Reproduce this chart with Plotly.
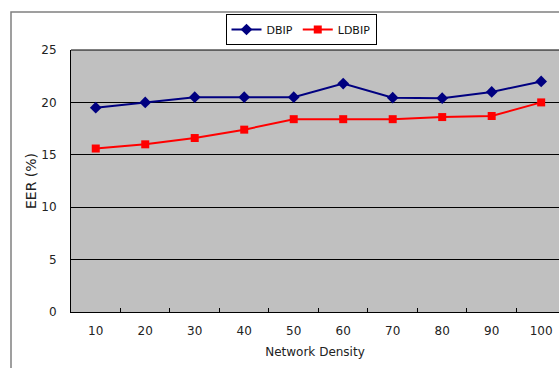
import plotly.graph_objects as go

categories = ["10", "20", "30", "40", "50", "60", "70", "80", "90", "100"]
dbip = [19.5, 20.0, 20.5, 20.5, 20.5, 21.8, 20.45, 20.4, 21.0, 22.0]
ldbip = [15.6, 16.0, 16.6, 17.4, 18.4, 18.4, 18.4, 18.6, 18.7, 20.0]
y_ticks = [0, 5, 10, 15, 20, 25]

W, H = 559, 368
L, R, T, B = 71, 0, 50, 56
pw, ph = W - L - R, H - T - B

def px(x):
    return (x - L) / pw

def py(y):
    return (H - B - y) / ph

FAM = "DejaVu Sans, Arial, sans-serif"
tickfont = dict(family=FAM, size=12, color="#222")

fig = go.Figure()
fig.add_trace(go.Scatter(x=categories, y=dbip, name="DBIP", mode="lines+markers",
                         line=dict(color="#000080", width=2),
                         marker=dict(symbol="diamond", size=9, color="#000080")))
fig.add_trace(go.Scatter(x=categories, y=ldbip, name="LDBIP", mode="lines+markers",
                         line=dict(color="#FF0000", width=2),
                         marker=dict(symbol="square", size=8, color="#FF0000")))

fig.update_layout(
    width=W, height=H,
    margin=dict(l=L, r=R, t=T, b=B, pad=0),
    paper_bgcolor="white", plot_bgcolor="#C0C0C0",
    font=tickfont,
    showlegend=True,
    legend=dict(orientation="h", x=px(301), xanchor="center", y=py(14), yanchor="top",
                bgcolor="white", bordercolor="black", borderwidth=1,
                font=dict(family=FAM, size=11, color="#111"),
                itemwidth=30, tracegroupgap=0),
    xaxis=dict(type="category", range=[-0.5, 9.36], showgrid=False,
               showline=True, linecolor="black", linewidth=1,
               ticks="inside", tickson="boundaries", ticklen=4, tickcolor="black",
               ticklabelstandoff=8,
               title=dict(text="Network Density", standoff=10,
                          font=dict(family=FAM, size=12, color="#222")),
               tickfont=tickfont),
    yaxis=dict(range=[0, 25], tickvals=y_ticks, showgrid=True, gridcolor="black", gridwidth=1,
               showline=True, linecolor="black", linewidth=1, zeroline=False,
               ticks="", ticklabelstandoff=11,
               title=dict(text="EER (%)", standoff=1,
                          font=dict(family=FAM, size=14, color="#222")),
               tickfont=tickfont),
    shapes=[dict(type="rect", xref="paper", yref="paper",
                 x0=px(11), x1=px(600), y0=py(12), y1=py(400),
                 line=dict(color="#808080", width=1.5), fillcolor="rgba(0,0,0,0)", layer="below"),
            dict(type="line", xref="paper", yref="paper", x0=0, x1=1, y0=1, y1=1,
                 line=dict(color="black", width=1))],
)

fig.write_html("out.html", config={"displayModeBar": False},
               post_script="document.body.style.margin='0';document.body.style.overflow='hidden';")
